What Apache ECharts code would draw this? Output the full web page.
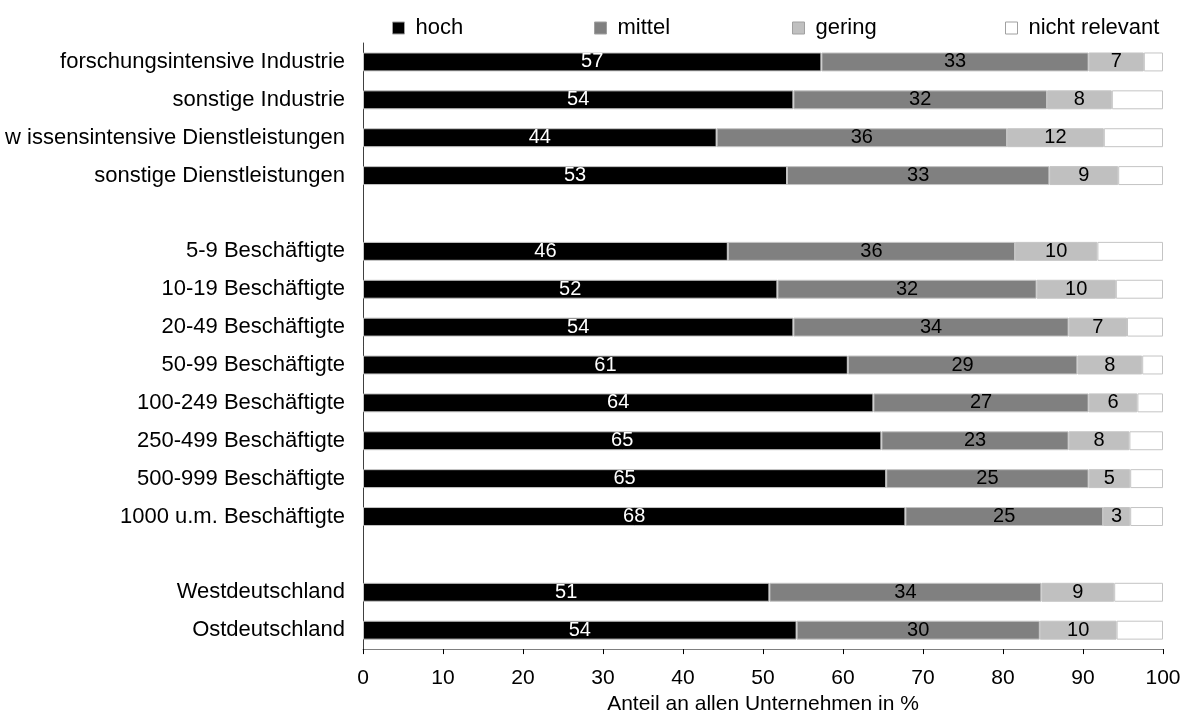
<!DOCTYPE html>
<html>
<head>
<meta charset="utf-8">
<script src="https://cdn.jsdelivr.net/npm/echarts@6/dist/echarts.min.js"></script>
<style>html,body{margin:0;padding:0;background:#fff}#c{width:1189px;height:720px}</style>
</head>
<body>
<div id="c"></div>
<script>
var categories = ['forschungsintensive Industrie','sonstige Industrie','w issensintensive Dienstleistungen','sonstige Dienstleistungen','',
  '5-9 Beschäftigte','10-19 Beschäftigte','20-49 Beschäftigte','50-99 Beschäftigte','100-249 Beschäftigte','250-499 Beschäftigte','500-999 Beschäftigte','1000 u.m. Beschäftigte',' ',
  'Westdeutschland','Ostdeutschland'];
var hoch    = [57.3, 53.8, 44.2, 53.0, '-', 45.6, 51.8, 53.8, 60.6, 63.8, 64.8, 65.4, 67.8, '-', 50.8, 54.2];
var mittel  = [33.4, 31.7, 36.3, 32.8, '-', 35.9, 32.4, 34.4, 28.7, 26.9, 23.4, 25.3, 24.7, '-', 34.0, 30.4];
var gering  = [6.9, 8.1, 12.1, 8.6, '-', 10.3, 9.9, 7.3, 8.1, 6.1, 7.6, 5.2, 3.4, '-', 9.1, 9.6];
var nichtRelevant = [2.4, 6.4, 7.4, 5.6, '-', 8.2, 5.9, 4.5, 2.6, 3.2, 4.2, 4.1, 4.1, '-', 6.1, 5.8];
var seriesNames = ['hoch','mittel','gering','nicht relevant'];
var colors = ['#000000','#808080','#c0c0c0','#ffffff'];
var xTicks = [0,10,20,30,40,50,60,70,80,90,100];

var sans = '"Liberation Sans", Arial, sans-serif';

function mk(name, data, color, labelColor, showLabel) {
  return {
    name: name, type: 'bar', stack: 'total', data: data,
    barCategoryGap: '50%',
    itemStyle: { color: color, borderColor: '#c4c4c4', borderWidth: 1 },
    label: {
      show: showLabel, position: 'inside', color: labelColor,
      fontFamily: sans, fontSize: 20,
      formatter: function (p) { return Math.round(p.value); }
    },
    emphasis: { disabled: true }
  };
}
var legendPos = [387, 589, 787, 1000];
var legends = seriesNames.map(function (n, i) {
  return {
    data: [n], left: legendPos[i], top: 12, itemWidth: 12, itemHeight: 12, itemGap: 6,
    icon: 'rect',
    itemStyle: { borderColor: '#a0a0a0', borderWidth: 1 },
    textStyle: { fontFamily: sans, fontSize: 22, color: '#000', padding: [0, 0, 0, 6] }
  };
});
var chart = echarts.init(document.getElementById('c'), null, { renderer: 'canvas' });
chart.setOption({
  animation: false,
  backgroundColor: '#fff',
  color: colors,
  legend: legends,
  grid: { left: 363, right: 26, top: 43, bottom: 69, containLabel: false },
  xAxis: {
    type: 'value', min: 0, max: 100, interval: 10,
    name: 'Anteil an allen Unternehmen in %', nameLocation: 'middle', nameGap: 42,
    nameTextStyle: { fontFamily: sans, fontSize: 21, color: '#000' },
    axisLine: { show: true, lineStyle: { color: '#808080', width: 1 } },
    axisTick: { show: true, length: 5, lineStyle: { color: '#000' } },
    axisLabel: { fontFamily: sans, fontSize: 21, color: '#000', margin: 19,
      formatter: function (v) { return xTicks.indexOf(v) >= 0 ? String(v) : ''; } },
    splitLine: { show: false }
  },
  yAxis: {
    type: 'category', data: categories, inverse: true,
    axisLine: { show: true, lineStyle: { color: '#404040', width: 1 } },
    axisTick: { show: false },
    axisLabel: { fontFamily: sans, fontSize: 22, color: '#000', margin: 18 }
  },
  series: [
    mk('hoch', hoch, colors[0], '#fff', true),
    mk('mittel', mittel, colors[1], '#000', true),
    mk('gering', gering, colors[2], '#000', true),
    mk('nicht relevant', nichtRelevant, colors[3], '#000', false)
  ]
});
</script>
</body>
</html>
